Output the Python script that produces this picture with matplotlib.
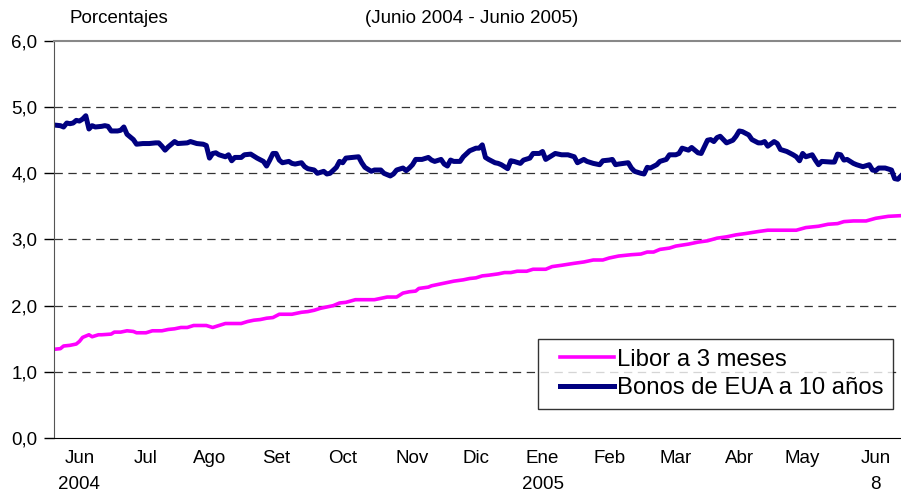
import matplotlib
matplotlib.use('Agg')
import matplotlib.pyplot as plt
from matplotlib.legend_handler import HandlerLine2D
from matplotlib.lines import Line2D

# x = trading day since 1 Jun 2004
bonos_t = [0, 2, 3, 4, 5, 6, 7, 8, 9, 10, 11, 12, 13, 15, 16, 17, 18, 20, 21, 22,
           23, 24, 25, 26, 28, 30, 32, 33, 34, 35, 36, 38, 39, 42, 43, 45, 47, 48, 49, 50,
           51, 52, 54, 55, 56, 57, 59, 60, 62, 64, 66, 67, 68, 69, 70, 71, 72, 74, 75, 76,
           78, 79, 80, 82, 83, 85, 86, 87, 89, 90, 91, 92, 94, 96, 97, 98, 100, 101, 103, 104,
           106, 107, 108, 110, 111, 112, 113, 114, 116, 118, 119, 120, 122, 123, 124, 125, 126, 128, 129, 131,
           133, 134, 135, 136, 137, 139, 140, 141, 143, 144, 145, 147, 148, 150, 151, 153, 154, 155, 156, 158,
           160, 162, 164, 165, 167, 168, 170, 172, 173, 175, 176, 177, 178, 181, 182, 183, 185, 186, 187, 188,
           190, 191, 193, 194, 196, 197, 198, 200, 201, 203, 204, 205, 206, 207, 208, 209, 210, 211, 212, 214,
           215, 216, 217, 219, 220, 222, 223, 224, 225, 227, 228, 229, 231, 233, 234, 235, 236, 237, 239, 240,
           241, 242, 245, 246, 247, 248, 249, 250, 252, 253, 255, 257, 258, 259, 260, 262, 264, 265, 266, 267]
bonos = [4.73, 4.72, 4.70, 4.76, 4.75, 4.76, 4.80, 4.79, 4.82, 4.87, 4.67, 4.72, 4.70, 4.71, 4.72, 4.71, 4.64, 4.64, 4.65, 4.70,
         4.59, 4.55, 4.51, 4.44, 4.45, 4.45, 4.46, 4.46, 4.41, 4.35, 4.40, 4.48, 4.45, 4.46, 4.48, 4.45, 4.44, 4.42, 4.23, 4.30,
         4.31, 4.28, 4.25, 4.28, 4.19, 4.24, 4.24, 4.28, 4.29, 4.23, 4.18, 4.11, 4.20, 4.30, 4.30, 4.20, 4.16, 4.18, 4.15, 4.14,
         4.16, 4.10, 4.07, 4.05, 4.00, 4.03, 3.99, 4.00, 4.09, 4.18, 4.16, 4.23, 4.24, 4.25, 4.16, 4.09, 4.03, 4.05, 4.05, 4.00,
         3.96, 3.99, 4.05, 4.08, 4.04, 4.08, 4.13, 4.21, 4.21, 4.24, 4.20, 4.18, 4.21, 4.14, 4.11, 4.20, 4.18, 4.18, 4.25, 4.34,
         4.38, 4.38, 4.43, 4.24, 4.21, 4.16, 4.15, 4.13, 4.07, 4.19, 4.18, 4.15, 4.20, 4.23, 4.30, 4.30, 4.33, 4.21, 4.24, 4.30,
         4.28, 4.28, 4.25, 4.16, 4.21, 4.18, 4.15, 4.13, 4.19, 4.20, 4.21, 4.13, 4.14, 4.16, 4.08, 4.03, 4.00, 3.99, 4.09, 4.08,
         4.13, 4.18, 4.21, 4.28, 4.28, 4.30, 4.38, 4.35, 4.39, 4.31, 4.30, 4.40, 4.50, 4.51, 4.48, 4.54, 4.56, 4.51, 4.46, 4.50,
         4.56, 4.64, 4.63, 4.58, 4.51, 4.46, 4.46, 4.48, 4.41, 4.48, 4.45, 4.36, 4.33, 4.28, 4.25, 4.19, 4.30, 4.25, 4.28, 4.20,
         4.13, 4.18, 4.17, 4.17, 4.29, 4.28, 4.20, 4.21, 4.15, 4.13, 4.10, 4.13, 4.05, 4.04, 4.08, 4.08, 4.05, 3.92, 3.91, 3.96]

libor_t = [0, 2, 3, 5, 7, 8, 9, 10, 11, 12, 14, 15, 18, 19, 21, 23, 25, 26, 29, 31,
           34, 36, 38, 40, 42, 44, 48, 50, 52, 54, 59, 61, 63, 65, 67, 69, 71, 75, 78, 80,
           82, 84, 86, 88, 90, 92, 95, 101, 103, 105, 108, 110, 112, 114, 115, 118, 119, 122, 124, 126,
           129, 131, 133, 135, 137, 140, 142, 144, 146, 149, 151, 155, 157, 160, 164, 167, 170, 173, 175, 178,
           182, 185, 187, 189, 191, 194, 196, 200, 203, 206, 209, 212, 215, 218, 222, 225, 234, 237, 241, 244,
           247, 249, 252, 256, 259, 263, 267]
libor = [1.34, 1.35, 1.39, 1.40, 1.42, 1.46, 1.52, 1.54, 1.56, 1.53, 1.56, 1.56, 1.57, 1.60, 1.60, 1.62, 1.61, 1.59, 1.59, 1.62,
         1.62, 1.64, 1.65, 1.67, 1.67, 1.70, 1.70, 1.67, 1.70, 1.73, 1.73, 1.76, 1.78, 1.79, 1.81, 1.82, 1.87, 1.87, 1.90, 1.91,
         1.93, 1.96, 1.98, 2.00, 2.04, 2.05, 2.09, 2.09, 2.11, 2.13, 2.13, 2.19, 2.21, 2.22, 2.26, 2.28, 2.30, 2.33, 2.35, 2.37,
         2.39, 2.41, 2.42, 2.45, 2.46, 2.48, 2.50, 2.50, 2.52, 2.52, 2.55, 2.55, 2.59, 2.61, 2.64, 2.66, 2.69, 2.69, 2.72, 2.75,
         2.77, 2.78, 2.81, 2.81, 2.85, 2.87, 2.90, 2.93, 2.96, 2.98, 3.02, 3.04, 3.07, 3.09, 3.12, 3.14, 3.14, 3.18, 3.20, 3.23,
         3.24, 3.27, 3.28, 3.28, 3.32, 3.35, 3.36]

tick_pos = [8, 29, 49, 70, 91, 113, 133, 154, 175, 196, 216, 236, 259]
tick_labels = ['Jun\n2004', 'Jul', 'Ago', 'Set', 'Oct', 'Nov', 'Dic', 'Ene\n2005',
               'Feb', 'Mar', 'Abr', 'May', 'Jun\n8']


class PadLine(HandlerLine2D):
    # legend line starts a bit in from the frame, like the original
    def create_artists(self, legend, orig_handle, xdescent, ydescent,
                       width, height, fontsize, trans):
        pad = 0.55 * fontsize
        y = (height - ydescent) / 2.
        line = Line2D([-xdescent + pad, -xdescent + width], [y, y])
        self.update_prop(line, orig_handle, legend)
        line.set_transform(trans)
        return [line]


plt.rcParams['font.family'] = ['Liberation Sans', 'DejaVu Sans']
plt.rcParams['lines.scale_dashes'] = False

fig = plt.figure(figsize=(9.01, 4.92), dpi=100)
ax = fig.add_axes([0.06, 0.1098, 0.94, 0.8069])

ax.plot(libor_t, libor, color='#FF00FF', lw=2.6, label='Libor a 3 meses', solid_joinstyle='round')
ax.plot(bonos_t, bonos, color='#000080', lw=3.6, label='Bonos de EUA a 10 años', solid_joinstyle='round')

ax.set_xlim(0, 267)
ax.set_ylim(0, 6)
ax.set_yticks([0, 1, 2, 3, 4, 5, 6])
ax.set_yticklabels(['0,0', '1,0', '2,0', '3,0', '4,0', '5,0', '6,0'], fontsize=13.5)
ax.set_xticks(tick_pos)
ax.set_xticklabels(tick_labels, fontsize=13.5, linespacing=1.65, va='top')
ax.tick_params(axis='x', length=0, pad=9)
ax.tick_params(axis='y', length=7, width=1, pad=5)

for y in [1, 2, 3, 4, 5]:
    ax.axhline(y, color='#333333', lw=0.9, dashes=(6, 4), zorder=0)

ax.spines['right'].set_visible(False)
ax.spines['top'].set_color('#888888')
ax.spines['top'].set_linewidth(1.5)
ax.spines['left'].set_color('#555555')

fig.text(0.077, 0.963, 'Porcentajes', fontsize=13.5, va='center')
fig.text(0.523, 0.963, '(Junio 2004 - Junio 2005)', fontsize=13.5, va='center', ha='center')

leg = ax.legend(loc='lower right', bbox_to_anchor=(0.9906, 0.073), fontsize=17.2,
                frameon=True, fancybox=False, handlelength=2.8, handletextpad=0.12,
                borderpad=0.4, labelspacing=0.28, borderaxespad=0,
                handler_map={Line2D: PadLine()})
leg.get_frame().set_edgecolor('black')
leg.get_frame().set_linewidth(1)

fig.savefig('out.png', dpi=100)
